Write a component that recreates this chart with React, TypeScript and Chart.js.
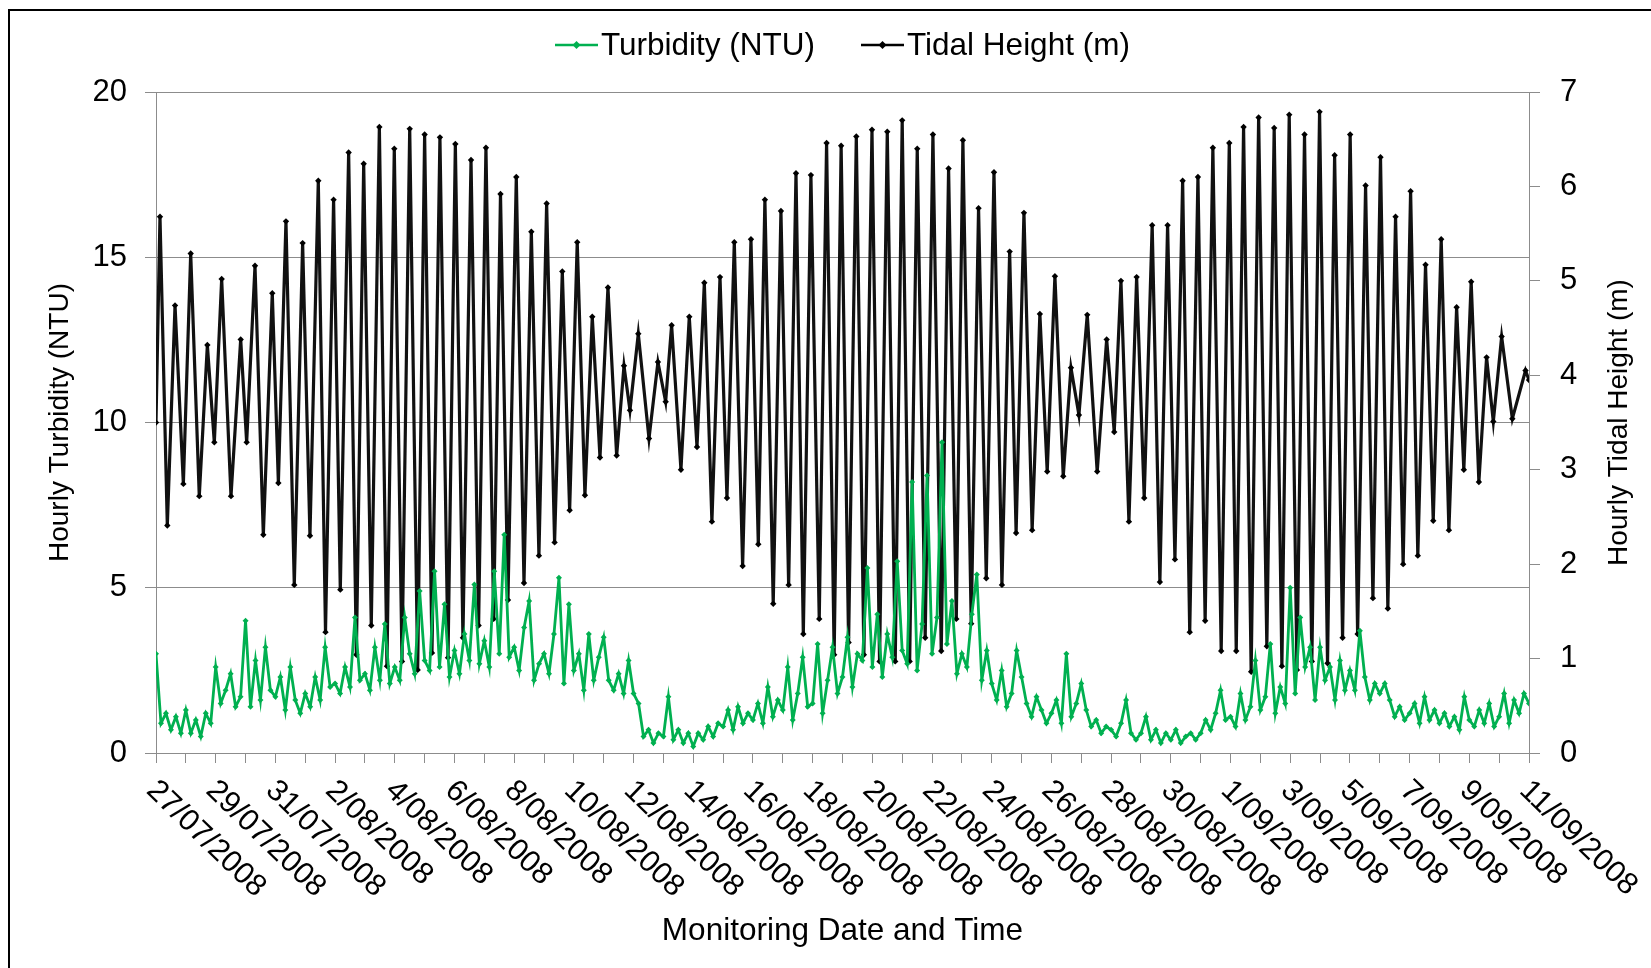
import { useEffect, useRef } from "react";
import { Chart, registerables } from "chart.js";

Chart.register(...registerables);

// Tidal extrema: hour since 27/07/2008 00:00, height in metres
const tideHours = [
  0, 3.2, 9.1, 15.3, 22.0, 27.9, 34.8, 41.3, 46.9, 52.8, 60.3, 68.1, 72.9, 79.6, 86.3, 93.5, 98.4, 104.5, 111.2, 117.9,
  123.8, 130.5, 136.3, 142.8, 148.2, 154.9, 161.1, 167.0, 173.1, 179.6, 185.7, 191.6, 197.8, 204.0, 210.4, 216.0, 221.9, 228.3, 234.8, 240.7,
  246.8, 253.3, 259.4, 265.3, 271.5, 277.0, 283.0, 289.7, 295.9, 301.8, 307.9, 314.1, 320.5, 326.7, 332.6, 338.7, 344.9, 350.8, 357.0, 363.4,
  370.4, 376.3, 381.1, 387.8, 396.4, 403.6, 409.8, 414.6, 422.1, 428.8, 435.0, 440.9, 447.0, 453.5, 459.1, 465.0, 471.7, 478.4, 484.3, 489.6,
  496.3, 502.5, 508.7, 514.6, 520.5, 526.6, 533.3, 539.2, 545.3, 550.9, 556.9, 563.1, 569.2, 575.7, 581.8, 588.0, 594.4, 600.0, 606.0, 612.1,
  618.5, 624.7, 631.4, 637.3, 643.5, 648.8, 655.5, 661.4, 667.6, 673.8, 680.2, 686.4, 691.6, 697.9, 704.5, 710.7, 716.6, 722.8, 729.5, 735.7,
  742.1, 748.8, 756.8, 764.4, 770.5, 775.9, 782.3, 788.5, 794.6, 801.0, 807.2, 813.4, 819.3, 825.5, 831.2, 837.8, 843.6, 849.8, 856.5, 863.0,
  868.6, 874.5, 880.6, 886.6, 893.2, 899.1, 905.3, 911.2, 917.4, 923.5, 929.4, 935.6, 942.0, 947.7, 954.1, 960.2, 966.2, 972.6, 978.5, 984.6,
  990.5, 996.7, 1002.8, 1008.8, 1014.6, 1020.8, 1027.0, 1033.4, 1039.6, 1045.8, 1051.6, 1057.5, 1063.7, 1069.9, 1075.3, 1082.0, 1090.6, 1101.2, 1104,
];
const tideHeights = [
  3.50, 5.68, 2.41, 4.74, 2.85, 5.29, 2.72, 4.32, 3.29, 5.02, 2.72, 4.38, 3.29, 5.16, 2.31, 4.87, 2.86, 5.63, 1.78, 5.40,
  2.30, 6.06, 1.28, 5.86, 1.73, 6.36, 1.04, 6.24, 1.35, 6.63, 0.92, 6.40, 0.97, 6.61, 0.88, 6.55, 1.06, 6.52, 1.01, 6.45,
  1.22, 6.28, 1.35, 6.41, 1.42, 5.92, 1.62, 6.10, 1.80, 5.52, 2.09, 5.82, 2.23, 5.10, 2.57, 5.41, 2.73, 4.62, 3.13, 4.93,
  3.15, 4.10, 3.63, 4.44, 3.33, 4.14, 3.72, 4.53, 3.00, 4.62, 3.24, 4.98, 2.45, 5.04, 2.70, 5.41, 1.98, 5.44, 2.21, 5.86,
  1.58, 5.74, 1.78, 6.14, 1.26, 6.12, 1.42, 6.46, 1.04, 6.43, 1.17, 6.53, 1.04, 6.60, 0.97, 6.58, 0.97, 6.70, 0.97, 6.40,
  1.22, 6.55, 1.08, 6.19, 1.42, 6.49, 1.37, 5.77, 1.85, 6.15, 1.78, 5.31, 2.33, 5.72, 2.36, 4.65, 2.98, 5.05, 2.93, 4.08,
  3.58, 4.64, 2.98, 4.38, 3.40, 5.00, 2.45, 5.04, 2.70, 5.59, 1.81, 5.59, 2.05, 6.06, 1.28, 6.10, 1.40, 6.41, 1.08, 6.46,
  1.08, 6.63, 0.86, 6.73, 1.13, 6.62, 0.92, 6.76, 0.88, 6.55, 0.97, 6.79, 0.95, 6.33, 1.22, 6.55, 1.26, 6.01, 1.64, 6.31,
  1.53, 5.68, 2.00, 5.95, 2.09, 5.17, 2.46, 5.44, 2.36, 4.72, 3.00, 4.99, 2.87, 4.19, 3.51, 4.41, 3.54, 4.05, 3.95,
];

// Turbidity (NTU) read every 4 hours, one row per day, from 27/07/2008 00:00
const turbidityStepHours = 4;
const turbidity = [
  3.0, 0.9, 1.2, 0.7, 1.1, 0.6,
  1.3, 0.6, 1.0, 0.5, 1.2, 0.9,
  2.6, 1.5, 1.9, 2.4, 1.4, 1.7,
  4.0, 1.4, 2.8, 1.6, 3.2, 1.9,
  1.7, 2.3, 1.3, 2.6, 1.6, 1.2,
  1.8, 1.4, 2.3, 1.6, 3.2, 2.0,
  2.1, 1.8, 2.6, 2.0, 4.1, 2.2,
  2.4, 1.9, 3.2, 2.2, 3.9, 2.1,
  2.6, 2.2, 4.1, 3.0, 2.4, 4.9,
  2.8, 2.5, 5.5, 2.6, 4.5, 2.3,
  3.1, 2.4, 3.6, 2.8, 5.1, 2.7,
  3.4, 2.6, 5.5, 3.0, 6.6, 2.9,
  3.2, 2.5, 3.8, 4.6, 2.2, 2.7,
  3.0, 2.4, 3.6, 5.3, 2.1, 4.5,
  2.5, 3.0, 1.9, 3.6, 2.2, 2.9,
  3.5, 2.2, 1.9, 2.4, 1.8, 2.8,
  1.8, 1.5, 0.5, 0.7, 0.3, 0.6,
  0.5, 1.7, 0.4, 0.7, 0.3, 0.6,
  0.2, 0.6, 0.4, 0.8, 0.5, 0.9,
  0.8, 1.3, 0.7, 1.4, 0.9, 1.2,
  1.0, 1.5, 0.9, 2.0, 1.1, 1.6,
  1.3, 2.6, 1.0, 1.8, 2.9, 1.4,
  1.5, 3.3, 1.2, 2.2, 3.2, 1.8,
  2.3, 3.5, 2.0, 3.0, 2.8, 5.6,
  2.6, 4.2, 2.3, 3.6, 2.9, 5.8,
  3.1, 2.7, 8.2, 2.5, 3.9, 8.4,
  3.0, 4.1, 9.4, 3.3, 4.6, 2.4,
  3.0, 2.6, 4.2, 5.4, 2.2, 3.1,
  2.1, 1.6, 2.5, 1.4, 1.8, 3.1,
  2.3, 1.5, 1.1, 1.7, 1.3, 0.9,
  1.2, 1.6, 0.9, 3.0, 1.1, 1.5,
  2.1, 1.3, 0.8, 1.0, 0.6, 0.8,
  0.7, 0.5, 0.9, 1.6, 0.6, 0.4,
  0.6, 1.1, 0.4, 0.7, 0.3, 0.6,
  0.4, 0.7, 0.3, 0.5, 0.6, 0.4,
  0.6, 1.0, 0.7, 1.2, 1.9, 1.0,
  1.1, 0.8, 1.8, 1.0, 1.4, 2.8,
  1.3, 1.7, 3.3, 1.2, 2.0, 1.5,
  5.0, 1.8, 4.1, 2.6, 3.2, 1.6,
  3.2, 2.2, 2.6, 1.6, 2.8, 1.9,
  2.5, 1.9, 3.7, 2.3, 1.6, 2.1,
  1.8, 2.1, 1.6, 1.1, 1.4, 1.0,
  1.2, 1.5, 0.9, 1.7, 1.0, 1.3,
  0.9, 1.2, 0.8, 1.1, 0.7, 1.7,
  1.0, 0.8, 1.3, 0.9, 1.5, 0.8,
  1.1, 1.8, 0.9, 1.6, 1.2, 1.8,
  1.5,
];

const dateLabels = [
  "27/07/2008", "29/07/2008", "31/07/2008", "2/08/2008", "4/08/2008", "6/08/2008",
  "8/08/2008", "10/08/2008", "12/08/2008", "14/08/2008", "16/08/2008", "18/08/2008",
  "20/08/2008", "22/08/2008", "24/08/2008", "26/08/2008", "28/08/2008", "30/08/2008",
  "1/09/2008", "3/09/2008", "5/09/2008", "7/09/2008", "9/09/2008", "11/09/2008",
];
const totalDays = 46;

const legendLabels = ["Turbidity (NTU)", "Tidal Height (m)"];
const xTitle = "Monitoring Date and Time";
const leftTitle = "Hourly Turbidity (NTU)";
const rightTitle = "Hourly Tidal Height (m)";

const GREEN = "#00B050";
const BLACK = "#000000";
const GRID = "#8c8c8c";
const FONT = '"Liberation Sans", Arial, sans-serif';

export default function App() {
  const ref = useRef<HTMLCanvasElement>(null);

  useEffect(() => {
    const canvas = ref.current;
    if (!canvas) return;

    const overlay = {
      id: "overlay",
      afterDraw(chart: any) {
        const ctx = chart.ctx as CanvasRenderingContext2D;
        const area = chart.chartArea;
        const xs = chart.scales.x;
        ctx.save();
        // outer frame (top and left edges visible)
        ctx.strokeStyle = "#000";
        ctx.lineWidth = 2;
        ctx.beginPath();
        ctx.moveTo(9, 968);
        ctx.lineTo(9, 10);
        ctx.lineTo(1651, 10);
        ctx.stroke();

        // legend
        const legendColors = [GREEN, BLACK];
        const legendX = [555, 861];
        ctx.font = `31.5px ${FONT}`;
        ctx.textBaseline = "middle";
        ctx.textAlign = "left";
        legendLabels.forEach((label, i) => {
          const x0 = legendX[i];
          ctx.strokeStyle = legendColors[i];
          ctx.fillStyle = legendColors[i];
          ctx.lineWidth = 2.5;
          ctx.beginPath();
          ctx.moveTo(x0, 45);
          ctx.lineTo(x0 + 43, 45);
          ctx.stroke();
          ctx.beginPath();
          ctx.moveTo(x0 + 21.5, 41);
          ctx.lineTo(x0 + 25.5, 45);
          ctx.lineTo(x0 + 21.5, 49);
          ctx.lineTo(x0 + 17.5, 45);
          ctx.closePath();
          ctx.fill();
          ctx.fillStyle = "#000";
          ctx.fillText(label, x0 + 46, 46);
        });

        // x tick labels, rotated
        ctx.fillStyle = "#000";
        ctx.font = `30.5px ${FONT}`;
        ctx.textAlign = "left";
        ctx.textBaseline = "middle";
        const angle = (44 * Math.PI) / 180;
        dateLabels.forEach((label, i) => {
          const px = xs.getPixelForValue(i * 48);
          ctx.save();
          ctx.translate(px - 5, area.bottom + 33);
          ctx.rotate(angle);
          ctx.fillText(label, 0, 0);
          ctx.restore();
        });

        // x title
        ctx.textAlign = "center";
        ctx.font = `31.5px ${FONT}`;
        ctx.fillText(xTitle, (area.left + area.right) / 2, 931);

        // y titles
        const midY = (area.top + area.bottom) / 2;
        ctx.font = `28px ${FONT}`;
        ctx.save();
        ctx.translate(60, midY);
        ctx.rotate(-Math.PI / 2);
        ctx.fillText(leftTitle, 0, 0);
        ctx.restore();
        ctx.save();
        ctx.translate(1619, midY);
        ctx.rotate(-Math.PI / 2);
        ctx.fillText(rightTitle, 0, 0);
        ctx.restore();
        ctx.restore();
      },
    };

    const chart = new Chart(canvas, {
      type: "line",
      data: {
        datasets: [
          {
            label: legendLabels[0],
            data: turbidity.map((v, i) => ({ x: i * turbidityStepHours, y: v })),
            borderColor: GREEN,
            backgroundColor: GREEN,
            borderWidth: 2.8,
            pointStyle: "rectRot",
            pointRadius: 3,
            pointBorderWidth: 0,
            yAxisID: "y",
          },
          {
            label: legendLabels[1],
            data: tideHours.map((h, i) => ({ x: h, y: tideHeights[i] })),
            borderColor: "#111111",
            backgroundColor: BLACK,
            borderWidth: 3.2,
            pointStyle: "rectRot",
            pointRadius: 3.2,
            pointBorderWidth: 0,
            yAxisID: "y1",
          },
        ],
      },
      options: {
        responsive: false,
        animation: false,
        events: [],
        layout: { padding: { top: 92, left: 0, right: 0, bottom: 0 } },
        plugins: { legend: { display: false }, tooltip: { enabled: false } },
        scales: {
          x: {
            type: "linear",
            min: 0,
            max: totalDays * 24,
            afterBuildTicks: (s: any) => {
              s.ticks = Array.from({ length: totalDays + 1 }, (_, d) => ({ value: d * 24 }));
            },
            afterFit: (s: any) => {
              s.height = 215;
            },
            ticks: { display: false },
            grid: { drawOnChartArea: false, drawTicks: true, tickLength: 10, color: GRID },
            border: { color: GRID, width: 1 },
          },
          y: {
            position: "left",
            min: 0,
            max: 20,
            afterFit: (s: any) => {
              s.width = 156;
            },
            ticks: { stepSize: 5, color: "#000", padding: 18, font: { family: FONT, size: 31 } },
            grid: { color: GRID, tickLength: 11, lineWidth: 1 },
            border: { color: GRID, width: 1 },
          },
          y1: {
            position: "right",
            min: 0,
            max: 7,
            afterFit: (s: any) => {
              s.width = 122;
            },
            ticks: { stepSize: 1, color: "#000", padding: 20, font: { family: FONT, size: 31 } },
            grid: { drawOnChartArea: false, color: GRID, tickLength: 11 },
            border: { color: GRID, width: 1 },
          },
        },
      },
      plugins: [overlay],
    });

    return () => chart.destroy();
  }, []);

  return (
    <div style={{ position: "fixed", left: 0, top: 0, width: 1651, height: 968, background: "#fff" }}>
      <canvas ref={ref} width={1651} height={968} style={{ display: "block", width: 1651, height: 968 }} />
    </div>
  );
}
